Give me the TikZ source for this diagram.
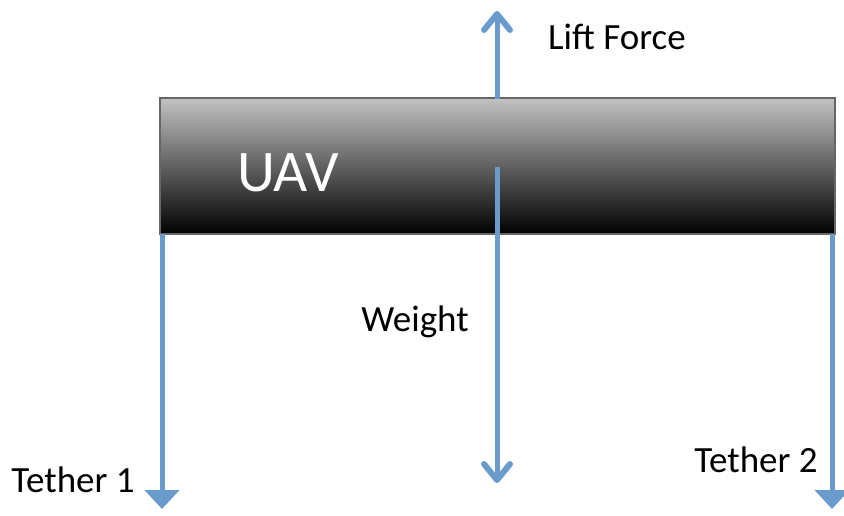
\documentclass[tikz,border=0pt]{standalone}
\usepackage{fontspec}
\setmainfont{Carlito}
\usetikzlibrary{arrows.meta}
\definecolor{arrowblue}{HTML}{6A9BCD}
\tikzset{
  force/.style={draw=arrowblue, line width=5pt, -{Straight Barb[length=16pt,width=26pt,line width=6pt,round]}},
  tether/.style={draw=arrowblue, line width=5pt, -{Triangle[length=19pt,width=34pt]}},
  lbl/.style={font=\fontsize{37}{42}\selectfont, text=black, inner sep=0pt},
}
\begin{document}
\begin{tikzpicture}[x=1pt,y=-1pt]
\useasboundingbox (0,0) rectangle (844,515);
\node (uav) [draw=black!60, line width=1.5pt, top color=black!24, bottom color=black, minimum width=675pt, minimum height=136pt, inner sep=0pt] at (497.5,166) {};
\node (uavlbl) [font=\fontsize{59}{64}\selectfont, text=white, inner sep=0pt] at (288,173) {UAV};
\coordinate (lifttop) at (497,11);
\coordinate (liftbot) at (497,99);
\coordinate (wtop) at (497,167);
\coordinate (wbot) at (497,483);
\coordinate (t1top) at (162,234);
\coordinate (t1bot) at (162,509);
\coordinate (t2top) at (832,234);
\coordinate (t2bot) at (832,509);
\draw[force] (liftbot) -- (lifttop);
\draw[force] (wtop) -- (wbot);
\draw[tether] (t1top) -- (t1bot);
\draw[tether] (t2top) -- (t2bot);
\node (lift) [lbl] at (617,37) {Lift Force};
\node (weight) [lbl] at (415,322) {Weight};
\node (teth1) [lbl] at (73,480) {Tether 1};
\node (teth2) [lbl] at (756,460) {Tether 2};
\end{tikzpicture}
\end{document}
